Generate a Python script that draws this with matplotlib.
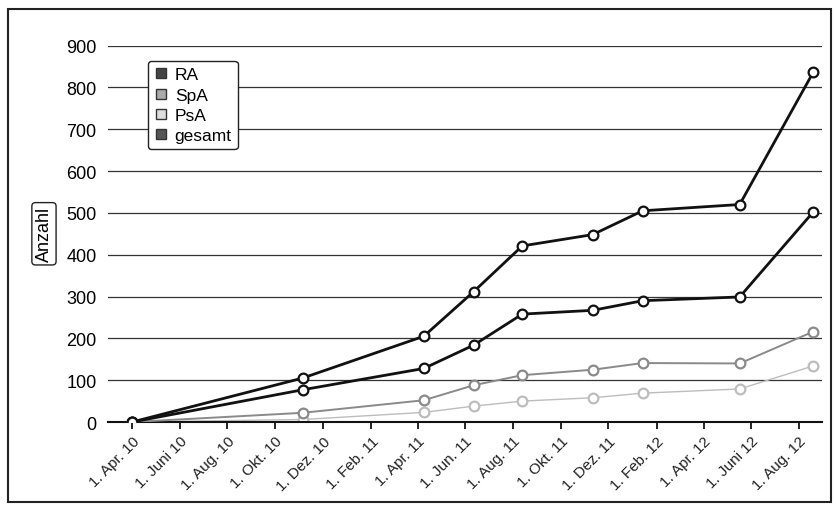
"""
Kumulative Anzahl Patienten (RA, SpA, PsA, gesamt) -- nachgebaut aus Scan.
"""

import matplotlib
matplotlib.use('Agg')
import matplotlib.pyplot as plt
from matplotlib.lines import Line2D
import pandas as pd

plt.rcParams['font.family'] = ['Liberation Sans', 'DejaVu Sans']

dates = pd.to_datetime([
    '2010-04-01', '2010-11-05', '2011-04-09', '2011-06-12', '2011-08-13',
    '2011-11-11', '2012-01-14', '2012-05-17', '2012-08-19',
])
gesamt = [0, 105, 205, 312, 421, 448, 505, 520, 836]
ra = [0, 77, 128, 184, 258, 267, 290, 299, 502]
spa = [0, 22, 52, 88, 112, 125, 141, 140, 216]
psa = [0, 6, 23, 38, 50, 58, 69, 79, 134]

tick_dates = pd.date_range('2010-04-01', '2012-08-01', freq='2MS')
tick_labels = ['1. Apr. 10', '1. Juni 10', '1. Aug. 10', '1. Okt. 10',
               '1. Dez. 10', '1. Feb. 11', '1. Apr. 11', '1. Jun. 11',
               '1. Aug. 11', '1. Okt. 11', '1. Dez. 11', '1. Feb. 12',
               '1. Apr. 12', '1. Juni 12', '1. Aug. 12']

fig = plt.figure(figsize=(8.36, 5.06), dpi=100)
ax = fig.add_axes([0.129, 0.164, 0.854, 0.744])

# Rahmen um die ganze Grafik
fig.patches.append(plt.Rectangle((0.009, 0.006), 0.985, 0.975,
                                 transform=fig.transFigure, fill=False,
                                 lw=1.5, ec='#222222'))

for vals, col, lw, z in [(psa, '#bdbdbd', 1.0, 2),
                         (spa, '#8a8a8a', 1.4, 3),
                         (ra, '#111111', 2.0, 4),
                         (gesamt, '#111111', 2.0, 5)]:
    ax.plot(dates, vals, color=col, lw=lw, marker='o', ms=7,
            mfc='white', mec=col, mew=1.6, zorder=z)

ax.set_ylim(0, 900)
ax.set_xlim(pd.Timestamp('2010-03-01'), pd.Timestamp('2012-08-30'))
ax.set_yticks(range(0, 1000, 100))
ax.yaxis.grid(True, color='#333333', lw=0.9)
ax.set_axisbelow(True)
for s in ['left', 'right', 'top']:
    ax.spines[s].set_visible(False)
ax.spines['bottom'].set_color('#111111')
ax.spines['bottom'].set_linewidth(1.5)
ax.tick_params(axis='y', length=0, pad=8, labelsize=13)
ax.tick_params(axis='x', length=5, width=1.2, direction='out', labelsize=11,
               labelcolor='#222222')

ax.set_xticks(tick_dates)
ax.set_xticklabels(tick_labels, rotation=45, ha='right',
                   rotation_mode='anchor')

ax.set_ylabel('Anzahl', fontsize=13, labelpad=10,
              bbox=dict(boxstyle='round,pad=0.2', fc='white', ec='#222222',
                        lw=1))

handles = [Line2D([], [], ls='none', marker='s', ms=7.5, mfc=fc,
                  mec='#333333', mew=1.0)
           for fc in ['#444444', '#aaaaaa', '#dddddd', '#555555']]
leg = ax.legend(handles, ['RA', 'SpA', 'PsA', 'gesamt'],
                loc='upper left', bbox_to_anchor=(0.056, 0.959),
                fontsize=12.5, frameon=True, fancybox=True, handlelength=0.8,
                handletextpad=0.4, labelspacing=0.3, borderpad=0.35,
                borderaxespad=0)
leg.get_frame().set_edgecolor('#222222')
leg.get_frame().set_linewidth(1.0)
leg.get_frame().set_alpha(1)

fig.savefig('out.png', dpi=100)
